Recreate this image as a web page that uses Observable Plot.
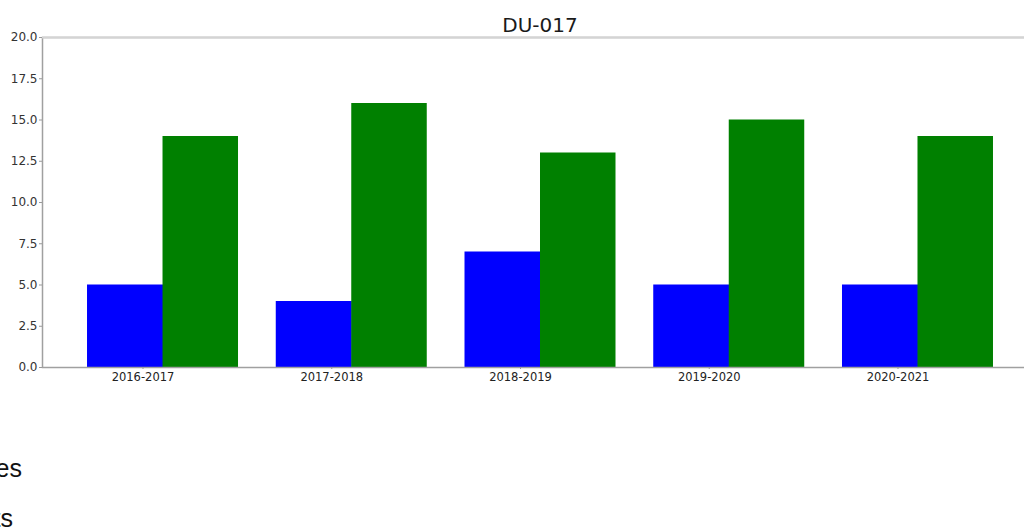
<!DOCTYPE html>
<html>
<head>
<meta charset="utf-8">
<script src="https://cdn.jsdelivr.net/npm/d3@7"></script>
<script src="https://cdn.jsdelivr.net/npm/@observablehq/plot@0.6"></script>
<style>
  html, body { margin: 0; padding: 0; background: #fff; overflow: hidden; width: 1024px; height: 529px; }
  #wrap { position: relative; width: 1024px; height: 529px; overflow: hidden; }
  #chart svg { max-width: none !important; }
  #title { position: absolute; top: 15px; left: 0; width: 1080px; text-align: center;
           font-family: "DejaVu Sans"; font-size: 20px; line-height: 20px; color: #1a1a1a; }
  .cut { position: absolute; transform: translateX(-100%); white-space: nowrap;
         font-family: "Liberation Sans", Arial, sans-serif; font-size: 25px; line-height: 24px; color: #111; }
</style>
</head>
<body>
<div id="wrap">
  <div id="chart"></div>
  <div id="title"></div>
  <span class="cut" id="line1" style="left:22px; top:456px;"></span>
  <span class="cut" id="line2" style="left:13px; top:506px;"></span>
</div>
<script>
const titleText = "DU-017";
const years = ["2016-2017", "2017-2018", "2018-2019", "2019-2020", "2020-2021"];
const blueValues = [5, 4, 7, 5, 5];
const greenValues = [14, 16, 13, 15, 14];
const yTicks = [0, 2.5, 5, 7.5, 10, 12.5, 15, 17.5, 20];
const sideLines = ["Courses", "Seats"];

document.getElementById("title").textContent = titleText;
document.getElementById("line1").textContent = sideLines[0];
document.getElementById("line2").textContent = sideLines[1];

const blueData = years.map((year, i) => ({year, value: blueValues[i]}));
const greenData = years.map((year, i) => ({year, value: greenValues[i]}));

const chart = Plot.plot({
  width: 1040,
  height: 397,
  marginLeft: 42,
  marginRight: 2,
  marginTop: 37,
  marginBottom: 30,
  style: {fontFamily: "DejaVu Sans", fontSize: "12px", color: "#333", overflow: "visible", background: "transparent", maxWidth: "none"},
  x: {domain: years, paddingInner: 0.2, paddingOuter: 0.2385, round: false, axis: null, label: null},
  y: {domain: [0, 20], axis: null, label: null},
  marks: [
    Plot.barY(blueData, {x: "year", y: "value", fill: "#0000ff", insetRight: 75}),
    Plot.barY(greenData, {x: "year", y: "value", fill: "#008000", insetLeft: 75.5}),
    Plot.frame({stroke: "#a0a0a0", strokeWidth: 1.5}),
    Plot.ruleY([20], {stroke: "#d4d4d4", strokeWidth: 2}),
    Plot.axisY({ticks: yTicks, tickFormat: d => d.toFixed(1), tickSize: 3, tickPadding: 2, stroke: "#999", fill: "#333", label: null}),
    Plot.axisX({tickSize: 2, tickPadding: 3, dx: -20, stroke: "#999", fill: "#222", fontSize: 11.5, label: null})
  ]
});
document.getElementById("chart").appendChild(chart);
</script>
</body>
</html>
